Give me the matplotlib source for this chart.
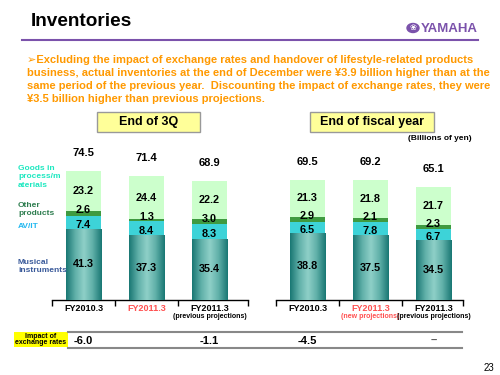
import matplotlib
matplotlib.use('Agg')
import matplotlib.pyplot as plt
import matplotlib.transforms as mtransforms
from matplotlib.colors import LinearSegmentedColormap
from matplotlib.patches import Rectangle, Circle
import numpy as np

plt.rcParams['font.family'] = ['Liberation Sans', 'DejaVu Sans']

# data
cats_3q = ["FY2010.3", "FY2011.3", "FY2011.3"]
subs_3q = ["", "", "(previous projections)"]
cat_colors_3q = ["black", "#FF5050", "black"]
musical_3q = [41.3, 37.3, 35.4]
avit_3q = [7.4, 8.4, 8.3]
other_3q = [2.6, 1.3, 3.0]
goods_3q = [23.2, 24.4, 22.2]
total_3q = [74.5, 71.4, 68.9]
impact_3q = ["-6.0", "", "-1.1"]

cats_fy = ["FY2010.3", "FY2011.3", "FY2011.3"]
subs_fy = ["", "(new projections)", "(previous projections)"]
cat_colors_fy = ["black", "#FF5050", "black"]
musical_fy = [38.8, 37.5, 34.5]
avit_fy = [6.5, 7.8, 6.7]
other_fy = [2.9, 2.1, 2.3]
goods_fy = [21.3, 21.8, 21.7]
total_fy = [69.5, 69.2, 65.1]
impact_fy = ["-4.5", "", "\u2013"]

text_lines = [
    "\u27a2Excluding the impact of exchange rates and handover of lifestyle-related products",
    "business, actual inventories at the end of December were \u00a53.9 billion higher than at the",
    "same period of the previous year.  Discounting the impact of exchange rates, they were",
    "\u00a53.5 billion higher than previous projections.",
]

W, H = 500, 375
fig = plt.figure(figsize=(5, 3.75), dpi=100)


def px(x, y):
    return x / W, 1 - y / H


def ftext(x, y, s, **kw):
    fx, fy = px(x, y)
    return fig.text(fx, fy, s, **kw)


musical_cmap = LinearSegmentedColormap.from_list(
    'mus', ['#1A7874', '#5FAFA8', '#8FD0C8', '#5FAFA8', '#1A7874'])


def stacked(ax, cats, subs, cat_colors, mus, avit, oth, goods, tot, xmax):
    x = np.arange(len(cats)) + 0.5
    w = 0.556
    b1 = ax.bar(x, mus, w, color='#2A8C88', zorder=2)
    bottom = np.array(mus)
    b2 = ax.bar(x, avit, w, bottom=bottom, color='#3DD3D8', zorder=2)
    bottom = bottom + np.array(avit)
    b3 = ax.bar(x, oth, w, bottom=bottom, color='#3F9A40', zorder=2)
    bottom = bottom + np.array(oth)
    b4 = ax.bar(x, goods, w, bottom=bottom, color='#CCFFCC', zorder=2)

    grad = np.linspace(0, 1, 64).reshape(1, -1)
    for rect in b1:
        x0 = rect.get_x()
        im = ax.imshow(grad, cmap=musical_cmap, aspect='auto', zorder=3,
                       extent=[x0, x0 + rect.get_width(), 0, rect.get_height()])
        im.set_clip_path(rect)

    # thin segments: labels pushed apart a little, like the slide
    for cont, vals, dy in [(b1, mus, 0), (b2, avit, -2.0), (b3, oth, 2.2), (b4, goods, 0)]:
        for rect, v in zip(cont, vals):
            ax.annotate("%.1f" % v,
                        (rect.get_x() + rect.get_width() / 2,
                         rect.get_y() + rect.get_height() / 2),
                        xytext=(0, dy), textcoords='offset points',
                        ha='center', va='center', fontsize=7.8,
                        fontweight='bold', zorder=5)

    for xi, t, s in zip(x, tot, bottom + np.array(goods)):
        ax.annotate("%.1f" % t, (xi, s), xytext=(0, 13), textcoords='offset points',
                    ha='center', va='center', fontsize=8, fontweight='bold')

    ax.set_xlim(0, xmax)
    ax.set_ylim(0, 92)
    for sp in ['top', 'right', 'left']:
        ax.spines[sp].set_visible(False)
    ax.spines['bottom'].set_linewidth(1)
    ax.set_yticks([])
    ax.set_xticks([0, 1, 2, xmax])
    ax.set_xticklabels([])
    ax.tick_params(axis='x', direction='out', length=4, width=1)
    ax.set_xticks(x, minor=True)
    ax.tick_params(axis='x', which='minor', length=0, pad=3)
    ax.set_xticklabels(cats, minor=True, fontsize=6.5, fontweight='bold')
    for lab, col in zip(ax.get_xticklabels(minor=True), cat_colors):
        lab.set_color(col)
    trans = mtransforms.blended_transform_factory(ax.transData, fig.transFigure)
    for xi, s, col in zip(x, subs, cat_colors):
        if s:
            ax.text(xi, px(0, 317)[1], s, transform=trans, ha='center', va='center',
                    fontsize=5, fontweight='bold', color=col)
    ax.patch.set_alpha(0)
    return x, trans


base = 300
unit = 1.73
ax_h = 92 * unit

ax1 = fig.add_axes([52 / W, (H - base) / H, 196 / W, ax_h / H])
x1, tr1 = stacked(ax1, cats_3q, subs_3q, cat_colors_3q, musical_3q, avit_3q,
                  other_3q, goods_3q, total_3q, 196 / 63)
ax2 = fig.add_axes([276 / W, (H - base) / H, 187 / W, ax_h / H])
x2, tr2 = stacked(ax2, cats_fy, subs_fy, cat_colors_fy, musical_fy, avit_fy,
                  other_fy, goods_fy, total_fy, 187 / 63)

# header
ftext(31, 21, "Inventories", fontsize=13.7, fontweight='bold', va='center')
fig.add_artist(plt.Line2D([22 / W, 478 / W], [px(0, 40)[1]] * 2, color='#7B52AB', lw=1.5))
fig.add_artist(Circle(px(413, 28), 6 / W, transform=fig.transFigure, color='#7B52AB'))
ftext(413, 28, "\u2740", fontsize=6, color='white', ha='center', va='center',
      family=['DejaVu Sans'])
ftext(421, 28.5, "YAMAHA", fontsize=9.5, fontweight='bold', color='#7B52AB', va='center')

for i, line in enumerate(text_lines):
    ftext(27, 60 + 13 * i, line, fontsize=8, fontweight='bold', color='#FF9900',
          va='center', family=['Liberation Sans', 'DejaVu Sans'])

# section boxes
for (x0, x1_, label) in [(97, 200, "End of 3Q"), (310, 434, "End of fiscal year")]:
    fig.add_artist(Rectangle(px(x0, 132), (x1_ - x0) / W, 20 / H,
                             transform=fig.transFigure, facecolor='#FFFF99',
                             edgecolor='#999999', lw=1))
    ftext((x0 + x1_) / 2, 122, label, fontsize=9, fontweight='bold',
          ha='center', va='center')

ftext(440, 139, "(Billions of yen)", fontsize=6, fontweight='bold', ha='center', va='center')

# legend labels
ftext(18, 177, "Goods in\nprocess/m\naterials", fontsize=6, fontweight='bold',
      color='#1DE8C0', va='center', linespacing=1.25)
ftext(18, 209.5, "Other\nproducts", fontsize=6, fontweight='bold',
      color='#2E7D4F', va='center', linespacing=1.2)
ftext(18, 226.5, "AV/IT", fontsize=6, fontweight='bold', color='#22B8F0', va='center')
ftext(18, 267, "Musical\ninstruments", fontsize=6, fontweight='bold',
      color='#3A5A9A', va='center', linespacing=1.2)

# impact row
for y in (332, 348):
    fig.add_artist(plt.Line2D([68 / W, 462 / W], [px(0, y)[1]] * 2, color='#888888', lw=1.5))
fig.add_artist(Rectangle(px(14, 347), 54 / W, 15 / H, transform=fig.transFigure,
                         facecolor='#FFFF00', edgecolor='none'))
ftext(41, 339.5, "Impact of\nexchange rates", fontsize=5, fontweight='bold',
      ha='center', va='center', linespacing=1.0)
for ax, xs, tr, vals in [(ax1, x1, tr1, impact_3q), (ax2, x2, tr2, impact_fy)]:
    for xi, v in zip(xs, vals):
        if v:
            ax.text(xi, px(0, 341)[1], v, transform=tr, ha='center', va='center',
                    fontsize=8, fontweight='bold', color='#555555' if v == "\u2013" else 'black')

ftext(494, 368, "23", fontsize=7, ha='right', va='center')

fig.savefig('out.png', dpi=100)
